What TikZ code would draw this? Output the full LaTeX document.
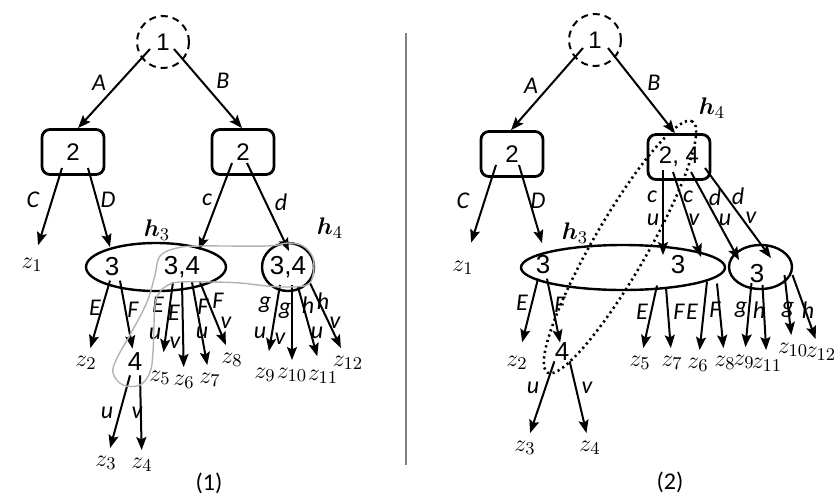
\documentclass[tikz,border=0pt]{standalone}
\usepackage{amsmath}
\usepackage{fontspec}
\setsansfont{Liberation Sans}
\newfontfamily\labfont{Carlito}
\usetikzlibrary{shapes.geometric, arrows.meta}

\begin{document}
\begin{tikzpicture}[x=0.5pt, y=-0.5pt,
    arr/.style = {line width=1pt, -{Stealth[length=6.5pt, width=5pt, inset=1.2pt]}},
    rootnode/.style = {circle, draw, line width=1pt, dash pattern=on 3.5pt off 2.5pt,
        minimum size=26pt, inner sep=0pt, font=\sffamily\fontsize{12}{14}\selectfont},
    box/.style = {draw, rounded corners=4pt, line width=1.4pt, minimum width=31pt,
        minimum height=22.5pt, inner sep=0pt, font=\sffamily\fontsize{12}{14}\selectfont},
    grp/.style = {ellipse, draw, line width=1.2pt, inner sep=0pt,
        font=\sffamily\fontsize{13}{15}\selectfont},
    num/.style = {inner sep=2pt, font=\sffamily\fontsize{13}{15}\selectfont},
    leaf/.style = {inner sep=0pt, outer sep=4pt, font=\fontsize{12.5}{15}\selectfont},
    lab/.style = {inner sep=0pt, font=\labfont\itshape\fontsize{12}{14}\selectfont},
    hlab/.style = {inner sep=0pt, font=\fontsize{13}{15}\selectfont},
    caption/.style = {inner sep=0pt, font=\labfont\fontsize{12}{14}\selectfont}]
\useasboundingbox (0,0) rectangle (837,494);

% ---- (1) ----
\node [rootnode] (r1) at (163,42) {1};
\node [box] (b1) at (73,152) {2};
\node [box] (b2) at (243,152) {2};
\node [grp, minimum width=70pt, minimum height=24pt] (e1) at (156,267) {};
\node [num] (t3) at (112,267) {3};
\node [num] (t34) at (182,267) {3,4};
\node [grp, minimum width=26pt, minimum height=24pt] (c1) at (288,267) {3,4};
\node [num] (n4) at (135,362) {4};

\node [leaf] (z1a) at (32,265) {$z_1$};
\node [leaf] (z2a) at (86,363) {$z_2$};
\node [leaf] (z3a) at (106,463) {$z_3$};
\node [leaf] (z4a) at (142,465) {$z_4$};
\node [leaf] (z5a) at (160,378) {$z_5$};
\node [leaf] (z6a) at (184,382) {$z_6$};
\node [leaf] (z7a) at (210,380) {$z_7$};
\node [leaf] (z8a) at (232,360) {$z_8$};
\node [leaf] (z9a) at (265,375) {$z_9$};
\node [leaf] (z10a) at (292,375) {$z_{10}$};
\node [leaf] (z11a) at (323,377) {$z_{11}$};
\node [leaf] (z12a) at (348,363) {$z_{12}$};

\draw [arr] ([shift={(-6.5pt,-3.5pt)}]r1.center) -- ([xshift=2.5pt]b1.north);
\draw [arr] ([shift={(5.5pt,-3.5pt)}]r1.center) -- ([xshift=-0.5pt]b2.north);
\draw [arr, shorten >=2.5pt] ([shift={(-5.5pt,-8pt)}]b1.center) -- (z1a);
\draw [arr] ([shift={(7.5pt,-8pt)}]b1.center) -- ([shift={(-1pt,10pt)}]t3.center);
\draw [arr] ([shift={(-5.5pt,-5.5pt)}]b2.center) -- ([shift={(8.5pt,8.5pt)}]t34.center);
\draw [arr] ([shift={(2pt,-5.5pt)}]b2.center) -- ([shift={(0.5pt,8pt)}]c1.center);

\draw [arr] ([xshift=-1pt]t3.south) -- (z2a);
\draw [arr] ([xshift=4pt]t3.south) -- (n4);
\draw [arr, shorten >=5.5pt] ([xshift=-4.5pt]t34.south) -- (z5a);
\draw [arr] (t34.south) -- (z6a);
\draw [arr] ([xshift=5pt]t34.south) -- (z7a);
\draw [arr] ([xshift=9pt]t34.south) -- (z8a);
\draw [arr, shorten >=4.5pt] ([shift={(-4pt,-9pt)}]c1.center) -- (z9a);
\draw [arr] ([shift={(2pt,-9pt)}]c1.center) -- (z10a);
\draw [arr, shorten >=3pt] ([shift={(5pt,-10pt)}]c1.center) -- (z11a);
\draw [arr] ([shift={(11pt,-8pt)}]c1.center) -- (z12a);
\draw [arr] ([xshift=-2.5pt]n4.south) -- (z3a);
\draw [arr] ([xshift=2.5pt]n4.south) -- (z4a);

\node [lab] at (99,83) {A};
\node [lab] at (223,81) {B};
\node [lab] at (33,200) {C};
\node [lab] at (108,200) {D};
\node [lab] at (207,200) {c};
\node [lab] at (281,202) {d};
\node [lab] at (95,308) {E};
\node [lab] at (133,310) {F};
\node [lab] at (158,305) {E};
\node [lab] at (155,334) {u};
\node [lab] at (174,313) {E};
\node [lab] at (175,343) {v};
\node [lab] at (203,307) {F};
\node [lab] at (202,333) {u};
\node [lab] at (218,301) {F};
\node [lab] at (226,323) {v};
\node [lab] at (265,305) {g};
\node [lab] at (260,333) {u};
\node [lab] at (285,311) {g};
\node [lab] at (280,339) {v};
\node [lab] at (308,305) {h};
\node [lab] at (317,333) {u};
\node [lab] at (323,301) {h};
\node [lab] at (335,323) {v};
\node [lab] at (107,413) {u};
\node [lab] at (137,413) {v};
\node [hlab] at (157,230) {$\boldsymbol{h}_3$};
\node [hlab] at (330,228) {$\boldsymbol{h}_4$};
\node [caption] at (209,483) {(1)};

% hand drawn group
\draw [gray!60, line width=0.7pt] plot [smooth cycle, tension=0.6] coordinates {
    (160,256) (177,248) (200,246) (267,246) (287,243) (303,246) (313,258)
    (313,275) (307,285) (287,287) (267,286) (240,283) (213,282) (180,282)
    (168,285) (160,292) (155,305) (153,352) (150,372) (140,385) (123,385)
    (113,373) (117,358) (130,335) (147,302) (155,275)};

\draw [gray, line width=0.9pt] (406,33) -- (406,465);

% ---- (2) ----
\node [rootnode] (r2) at (595,40) {1};
\node [box] (b3) at (512,154) {2};
\node [box] (b4) at (679,157) {2, 4};
\node [grp, minimum width=102pt, minimum height=22.5pt] (e2) at (623,267.5) {};
\node [num] (t3b) at (543,265) {3};
\node [num] (t3c) at (678,265) {3};
\node [grp, minimum width=31.5pt, minimum height=22pt] (c2) at (760.5,267) {};
\node [num] (t3d) at (757,274) {3};
\node [num, inner sep=0pt] (n4b) at (562,352) {4};

\node [leaf] (z1b) at (463,268) {$z_1$};
\node [leaf] (z2b) at (517,363) {$z_2$};
\node [leaf] (z3b) at (525,448) {$z_3$};
\node [leaf] (z4b) at (590,448) {$z_4$};
\node [leaf] (z5b) at (640,363) {$z_5$};
\node [leaf] (z7b) at (672,363) {$z_7$};
\node [leaf] (z6b) at (698,365) {$z_6$};
\node [leaf] (z8b) at (725,363) {$z_8$};
\node [leaf] (z9b) at (744,362) {$z_9$};
\node [leaf] (z11b) at (767,365) {$z_{11}$};
\node [leaf] (z10b) at (793,350) {$z_{10}$};
\node [leaf] (z12b) at (821,354) {$z_{12}$};

\draw [arr] ([shift={(-6pt,-4pt)}]r2.center) -- ([xshift=-0.5pt]b3.north);
\draw [arr] ([shift={(6.5pt,-4pt)}]r2.center) -- ([xshift=-2pt]b4.north);
\draw [arr, shorten >=5.5pt] ([shift={(-8pt,-5.5pt)}]b3.center) -- (z1b);
\draw [arr] ([shift={(3.5pt,-5.5pt)}]b3.center) -- ([shift={(-0.5pt,11pt)}]t3b.center);
\draw [arr] ([shift={(-8pt,-6.5pt)}]b4.center) -- ([shift={(20pt,6.25pt)}]e2.center);
\draw [arr] ([shift={(-3pt,-7.5pt)}]b4.center) -- ([shift={(39pt,5.25pt)}]e2.center);
\draw [arr] ([shift={(6pt,-7.5pt)}]b4.center) -- ([shift={(-10.75pt,3.5pt)}]c2.center);
\draw [arr] ([shift={(13pt,-5.5pt)}]b4.center) -- ([shift={(5.25pt,4.5pt)}]c2.center);

\draw [arr, shorten >=3pt] ([xshift=-2.5pt]t3b.south) -- (z2b);
\draw [arr] ([xshift=2pt]t3b.south) -- (n4b);
\draw [arr] (n4b.south west) -- (z3b);
\draw [arr] (n4b.south east) -- (z4b);
\draw [arr] ([shift={(17pt,-9pt)}]e2.center) -- (z5b);
\draw [arr] ([shift={(21.5pt,-10pt)}]e2.center) -- (z7b);
\draw [arr] ([shift={(42pt,-7pt)}]e2.center) -- (z6b);
\draw [arr] ([shift={(47pt,-8pt)}]e2.center) -- (z8b);
\draw [arr] ([shift={(-4.5pt,-8pt)}]c2.center) -- (z9b);
\draw [arr] ([shift={(1pt,-9pt)}]c2.center) -- (z11b);
\draw [arr] ([shift={(12pt,-4pt)}]c2.center) -- (z10b);
\draw [arr] ([shift={(16pt,-4pt)}]c2.center) -- (z12b);

\node [lab] at (531,86) {A};
\node [lab] at (654,83) {B};
\node [lab] at (463,201) {C};
\node [lab] at (538,201) {D};
\node [lab] at (652,197) {c};
\node [lab] at (653,220) {u};
\node [lab] at (688,197) {c};
\node [lab] at (694,220) {v};
\node [lab] at (715,197) {d};
\node [lab] at (725,220) {u};
\node [lab] at (738,196) {d};
\node [lab] at (751,218) {v};
\node [lab] at (522,303) {E};
\node [lab] at (560,305) {F};
\node [lab] at (533,388) {u};
\node [lab] at (587,388) {v};
\node [lab] at (642,312) {E};
\node [lab] at (679,312) {F};
\node [lab] at (692,312) {E};
\node [lab] at (715,310) {F};
\node [lab] at (741,310) {g};
\node [lab] at (759,310) {h};
\node [lab] at (788,310) {g};
\node [lab] at (808,310) {h};
\node [hlab] at (712,108) {$\boldsymbol{h}_4$};
\node [hlab] at (575,233) {$\boldsymbol{h}_3$};
\node [caption] at (670,482) {(2)};

% dotted group
\draw [line width=1.3pt, dash pattern=on 1.1pt off 1.7pt, rotate around={60:(620,247)}]
    (620,247) ellipse [x radius=72.5pt, y radius=13.5pt];
\end{tikzpicture}
\end{document}
